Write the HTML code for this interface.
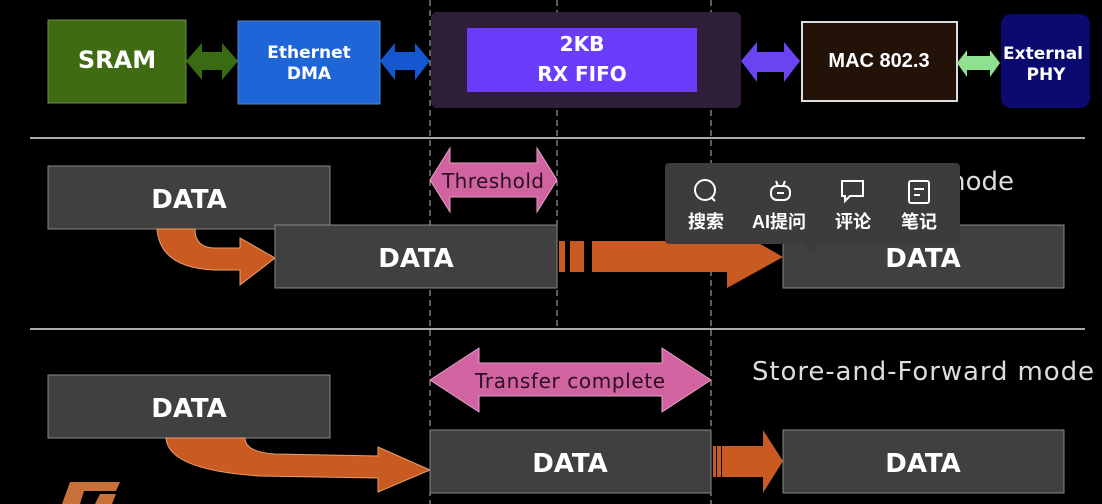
<!DOCTYPE html>
<html><head><meta charset="utf-8"><style>
html,body{margin:0;padding:0;background:#000;width:1102px;height:504px;overflow:hidden}
svg{display:block}
.b{font-family:"DejaVu Sans","Liberation Sans",sans-serif;font-weight:bold;fill:#fff;text-anchor:middle}
.d{font-family:"DejaVu Sans","Liberation Sans",sans-serif;font-weight:bold;fill:#fff;text-anchor:middle;font-size:26px}
.cn{font-family:"Liberation Sans","Noto Sans CJK SC",sans-serif;fill:#fff;text-anchor:middle;font-size:18px;font-weight:bold}
</style></head><body>
<svg width="1102" height="504" viewBox="0 0 1102 504">
<g stroke="#bbb" stroke-width="1" stroke-dasharray="6,4">
<line x1="430" y1="0" x2="430" y2="504"/>
<line x1="557" y1="0" x2="557" y2="328"/>
<line x1="711" y1="0" x2="711" y2="504"/>
</g>
<rect x="48" y="20" width="138" height="83" fill="#3f6c12" stroke="#6d8a4a" stroke-width="1"/>
<text class="b" x="117" y="68" font-size="24">SRAM</text>
<polygon points="186,61 202,43 202,52 222,52 222,43 238,61 222,80 222,70 202,70 202,80" fill="#3a6a12"/>
<rect x="238" y="21" width="142" height="83" fill="#1e66d8" stroke="#5585c0"/>
<text class="b" x="309" y="58" font-size="17">Ethernet</text>
<text class="b" x="309" y="79" font-size="17">DMA</text>
<polygon points="380,61 395,43 395,52 415,52 415,43 430,61 415,80 415,70 395,70 395,80" fill="#1557d0"/>
<rect x="431" y="12" width="310" height="96" rx="6" fill="#2f1f3a"/>
<rect x="467" y="28" width="230" height="64" fill="#6a3cfb"/>
<text class="b" x="582" y="51" font-size="20">2KB</text>
<text class="b" x="582" y="81" font-size="20">RX FIFO</text>
<polygon points="741,61 757,42 757,52 784,52 784,42 800,61 784,82 784,72 757,72 757,82" fill="#6a44f0"/>
<rect x="802" y="22" width="155" height="79" fill="#221208" stroke="#ddd" stroke-width="2"/>
<text x="879" y="67" font-family="Liberation Sans,sans-serif" font-weight="bold" font-size="20" fill="#fff" text-anchor="middle">MAC 802.3</text>
<polygon points="957,63 967,50 967,56 990,56 990,50 1000,63 990,77 990,70 967,70 967,77" fill="#8fe08f"/>
<rect x="1001" y="14" width="89" height="94" rx="10" fill="#0a0a70"/>
<text class="b" x="1043" y="59" font-size="17">External</text>
<text class="b" x="1046" y="80" font-size="17">PHY</text>
<line x1="30" y1="138" x2="1085" y2="138" stroke="#aaa" stroke-width="2"/>
<line x1="30" y1="329" x2="1085" y2="329" stroke="#aaa" stroke-width="2"/>
<rect x="48" y="166" width="282" height="63" fill="#404040" stroke="#888"/>
<text class="d" x="189" y="208">DATA</text>
<path d="M157,229 Q160,268 215,270 L240,270 L240,285 L275,258 L240,238 L240,248 L215,248 Q195,248 195,229 Z" fill="#c95a22" stroke="#e9a070" stroke-width="1"/>
<rect x="275" y="225" width="282" height="63" fill="#404040" stroke="#888"/>
<text class="d" x="416" y="267">DATA</text>
<polygon points="430,180 450,148 450,163 537,163 537,148 557,180 537,212 537,197 450,197 450,212" fill="#d063a0" stroke="#e5a0c8"/>
<text x="493" y="188" font-family="DejaVu Sans,sans-serif" font-size="20" fill="#2a1020" text-anchor="middle" textLength="102">Threshold</text>
<rect x="559" y="241" width="6" height="31" fill="#c95a22"/>
<rect x="570" y="241" width="14" height="31" fill="#c95a22"/>
<polygon points="592,241 727,241 727,225 783,257 727,288 727,272 592,272" fill="#c95a22"/>
<rect x="783" y="225" width="281" height="63" fill="#404040" stroke="#888"/>
<text class="d" x="923" y="267">DATA</text>
<text x="1014" y="190" font-family="DejaVu Sans,sans-serif" font-size="26" fill="#ddd" text-anchor="end">Cut-through mode</text>
<rect x="665" y="163" width="295" height="81" rx="4" fill="#3c3c3c"/>
<polygon points="802,244 822,244 812,253" fill="#3c3c3c"/>
<g stroke="#fff" stroke-width="2" fill="none">
<circle cx="705" cy="190" r="10"/><line x1="711" y1="197" x2="715" y2="201"/>
<rect x="771" y="186" width="19" height="14" rx="6"/><line x1="776" y1="181" x2="778" y2="186"/><line x1="785" y1="181" x2="783" y2="186"/><line x1="777" y1="193" x2="784" y2="193"/>
<path d="M842,181 h21 v15 h-13 l-5,5 v-5 h-3 z"/>
<rect x="909" y="181" width="20" height="22" rx="2"/><line x1="914" y1="189" x2="924" y2="189"/><line x1="914" y1="195" x2="920" y2="195"/>
</g>
<text class="cn" x="706" y="228">搜索</text>
<text class="cn" x="779" y="228">AI提问</text>
<text class="cn" x="853" y="228">评论</text>
<text class="cn" x="919" y="228">笔记</text>
<rect x="48" y="375" width="282" height="63" fill="#404040" stroke="#888"/>
<text class="d" x="189" y="417">DATA</text>
<polygon points="430,380 479,348 479,363 662,363 662,348 711,380 662,412 662,396 479,396 479,412" fill="#d063a0" stroke="#e5a0c8"/>
<text x="570" y="388" font-family="DejaVu Sans,sans-serif" font-size="20" fill="#2a1020" text-anchor="middle" textLength="190">Transfer complete</text>
<text x="752" y="380" font-family="DejaVu Sans,sans-serif" font-size="26" fill="#ddd" textLength="342">Store-and-Forward mode</text>
<path d="M166,438 Q168,470 260,476 L378,478 L378,492 L430,470 L378,447 L378,456 L275,454 Q245,452 245,438 Z" fill="#c95a22" stroke="#e9a070" stroke-width="1"/>
<rect x="430" y="430" width="281" height="63" fill="#404040" stroke="#888"/>
<text class="d" x="570" y="472">DATA</text>
<rect x="713" y="446" width="3" height="31" fill="#c95a22"/>
<rect x="717" y="446" width="4" height="31" fill="#c95a22"/>
<polygon points="722,446 763,446 763,430 783,461 763,493 763,477 722,477" fill="#c95a22"/>
<rect x="783" y="430" width="281" height="63" fill="#404040" stroke="#888"/>
<text class="d" x="923" y="472">DATA</text>
<polygon points="62,504 70,482 120,482 116,491 84,491 80,504" fill="#c8703a"/>
<polygon points="95,504 100,494 116,494 112,504" fill="#c8703a"/>
</svg>
</body></html>
